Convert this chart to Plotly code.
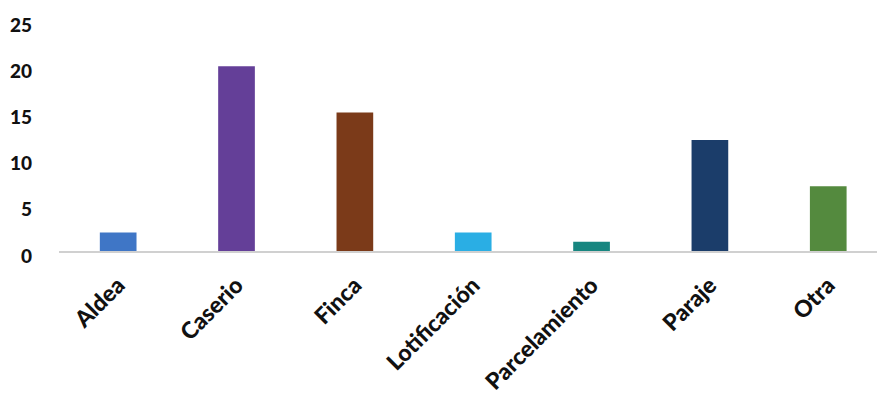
import plotly.graph_objects as go

categories = ["Aldea", "Caserio", "Finca", "Lotificación", "Parcelamiento", "Paraje", "Otra"]
values = [2, 20, 15, 2, 1, 12, 7]
colors = ["#3F76C6", "#643F98", "#7B3A19", "#2AAEE4", "#178680", "#1B3D6A", "#548A3E"]
y_ticks = [0, 5, 10, 15, 20, 25]

fig = go.Figure(go.Bar(x=categories, y=values, marker=dict(color=colors, line=dict(width=0)), width=0.31))

W, H = 877, 398
left, top, bottom_y = 59.3, 19.5, 250.7
fig.update_layout(
    width=W, height=H,
    margin=dict(l=left, r=0, t=top, b=H - bottom_y, pad=0),
    paper_bgcolor="white", plot_bgcolor="white",
    showlegend=False,
    font=dict(family="Lato", size=19, color="#111111"),
)
fig.update_xaxes(
    range=[-0.5, 6.412], tickangle=-45, showline=True, linecolor="#D0D0D0", linewidth=1.5,
    showgrid=False, ticks="", tickfont=dict(family="Lato", size=23, color="#111111", weight=900),
    ticklabelstandoff=10,
)
fig.update_yaxes(
    range=[0, 25], tickvals=y_ticks, showgrid=False, zeroline=False, showline=False, ticks="",
    tickfont=dict(family="Lato", size=19, color="#111111", weight=900),
    ticklabelstandoff=26, ticklabelshift=5,
)
fig.write_html("out.html")
